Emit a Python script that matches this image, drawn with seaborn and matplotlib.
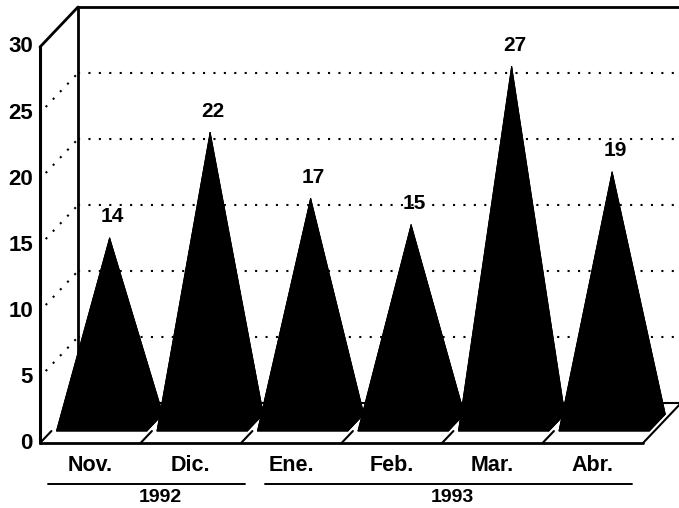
import matplotlib
matplotlib.use("Agg")
import matplotlib.pyplot as plt
from matplotlib.patches import Polygon
import pandas as pd
import seaborn as sns

# Monthly values, Nov. 1992 - Abr. 1993
months = ["Nov.", "Dic.", "Ene.", "Feb.", "Mar.", "Abr."]
years = ["1992", "1992", "1993", "1993", "1993", "1993"]
values = [14, 22, 17, 15, 27, 19]
y_ticks = [0, 5, 10, 15, 20, 25, 30]

df = pd.DataFrame({"mes": months, "anio": years, "valor": values})
df["pos"] = range(len(df))

sns.set_theme(style="white")
plt.rcParams["font.family"] = ["Liberation Sans", "DejaVu Sans"]
plt.rcParams["text.color"] = "black"

fig = plt.figure(figsize=(6.79, 5.08), dpi=100)
ax = fig.add_axes([0, 0, 1, 1])
ax.set_xlim(-0.898, 5.858)
ax.set_ylim(-4.92, 33.56)
ax.set_axis_off()

# oblique depth of the box, in (category, value) units
DX, DY = 0.378, 3.03
YMAX = y_ticks[-1]
X0 = -0.5                      # front-left corner of the box
X1 = len(df) - 0.5             # front-right end of the floor
XR = ax.get_xlim()[1] + 0.1    # walls run off to the right edge


def proj(x, v, d):
    return x + d * DX, v + d * DY


def seg(p, q, **kw):
    ax.plot([p[0], q[0]], [p[1], q[1]], color="black",
            solid_capstyle="round", **kw)


# dotted grid: across the side wall, then along the back wall
for v in y_ticks[1:-1]:
    a = proj(X0, v, 0.15)
    b = proj(X0, v, 1.0)
    seg(a, b, lw=1.5, ls=(0, (1, 4)), zorder=1)
    seg(b, (XR, b[1]), lw=1.5, ls=(0, (1, 4)), zorder=1)

# back wall edge and back floor edge
seg(proj(X0, 0, 1), proj(X0, YMAX, 1), lw=2, zorder=1)
seg(proj(X0, 0, 1), (XR, proj(X0, 0, 1)[1]), lw=1.5, zorder=1)

# pyramids
D0, D1 = 0.30, 0.72
HW = 0.45
DA = (D0 + D1) / 2
for _, r in df.iterrows():
    i, v = r["pos"], r["valor"]
    fl = proj(i - HW, 0, D0)
    fr = proj(i + HW, 0, D0)
    br = proj(i + HW, 0, D1)
    bl = proj(i - HW, 0, D1)
    apex = proj(i, v, DA)
    for face in ([fl, fr, apex], [fr, br, apex], [br, bl, apex],
                 [bl, fl, apex], [fl, fr, br, bl]):
        ax.add_patch(Polygon(face, closed=True, facecolor="black",
                             edgecolor="black", lw=0.6, zorder=3))
    ax.text(apex[0] + 0.03, apex[1] + 1.6, f"{v}", ha="center",
            va="center", fontsize=15, fontweight="bold", zorder=5)

# floor: front edge and slanted cell dividers
seg(proj(X0, 0, 0), proj(X1, 0, 0), lw=2, zorder=4)
for k in range(len(df) + 1):
    xb = X0 + k
    dend = 1.2 if k == len(df) else D0
    seg(proj(xb, 0, 0), proj(xb, 0, dend), lw=1.5, zorder=4)

# front axis and top edge
seg(proj(X0, 0, 0), proj(X0, YMAX, 0), lw=2.2, zorder=4)
seg(proj(X0, YMAX, 0), proj(X0, YMAX, 1), lw=2, zorder=4)
seg(proj(X0, YMAX, 1), (XR, proj(X0, YMAX, 1)[1]), lw=2, zorder=4)

# value axis labels
for t in y_ticks:
    ax.text(X0 - 0.07, t, f"{t}", ha="right", va="center",
            fontsize=16, fontweight="bold")

# month labels
for _, r in df.iterrows():
    ax.text(r["pos"], -1.67, r["mes"], ha="center", va="center",
            fontsize=15.5, fontweight="bold")

# year groups with bracket lines
for yr, grp in df.groupby("anio"):
    lo, hi = grp["pos"].min(), grp["pos"].max()
    left = lo - (0.42 if lo == 0 else 0.26)
    right = hi + (0.54 if yr == "1992" else 0.39)
    ax.plot([left, right], [-3.1, -3.1], color="black", lw=1.4)
    ax.text((lo + hi) / 2 + (0.2 if yr == "1992" else 0.1), -4.15, yr,
            ha="center", va="center", fontsize=14, fontweight="bold")

fig.savefig("out.png", dpi=100, facecolor="white")
